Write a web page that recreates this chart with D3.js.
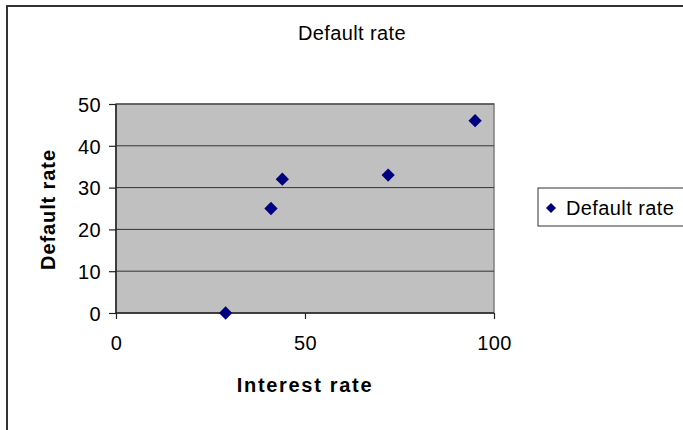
<!DOCTYPE html>
<html><head><meta charset="utf-8">
<script src="https://cdn.jsdelivr.net/npm/d3@7"></script>
<style>body{margin:0;background:#fff}svg{display:block}text{font-family:"Liberation Sans",Arial,sans-serif}</style>
</head><body><svg id="c" width="683" height="430"></svg>
<script>
const interestRate = [29, 41, 44, 72, 95];
const defaultRate = [0, 25, 32, 33, 46];
const xTicks = [0, 50, 100];
const yTicks = [0, 10, 20, 30, 40, 50];
const chartTitle = "Default rate";
const xTitle = "Interest rate";
const yTitle = "Default rate";
const seriesName = "Default rate";

const svg = d3.select("#c");
const L = 116, R = 494, T = 104, B = 313;
const x = d3.scaleLinear().domain([0, 100]).range([L, R]);
const y = d3.scaleLinear().domain([0, 50]).range([B, T]);

// outer border
svg.append("rect").attr("x", 7).attr("y", 6).attr("width", 690).attr("height", 440)
  .attr("fill", "#fff").attr("stroke", "#333").attr("stroke-width", 2);

// plot area
svg.append("rect").attr("x", L).attr("y", T).attr("width", R - L).attr("height", B - T)
  .attr("fill", "#c0c0c0").attr("stroke", "#808080").attr("stroke-width", 1.5);

// gridlines
svg.append("g").selectAll("line").data(yTicks.filter(d => d > 0)).join("line")
  .attr("x1", L).attr("x2", R).attr("y1", d => y(d)).attr("y2", d => y(d))
  .attr("stroke", "#333").attr("stroke-width", 1);

// axes
const yAxis = svg.append("g").attr("transform", `translate(${L},0)`)
  .call(d3.axisLeft(y).tickValues(yTicks).tickSize(7).tickPadding(8));
const xAxis = svg.append("g").attr("transform", `translate(0,${B})`)
  .call(d3.axisBottom(x).tickValues(xTicks).tickSize(6));
[yAxis, xAxis].forEach(a => {
  a.select(".domain").attr("stroke", "#222").attr("stroke-width", 1.5);
  a.selectAll(".tick line").attr("stroke", "#222").attr("stroke-width", 1.2);
  a.selectAll("text").attr("font-size", 20).attr("fill", "#000").attr("letter-spacing", 0.4)
    .attr("font-family", "Liberation Sans, Arial, sans-serif");
});
xAxis.selectAll("text").attr("y", 37).attr("dy", 0);
yAxis.selectAll("text").attr("dy", "0.36em");
xAxis.selectAll(".domain").attr("d", `M${L},0H${R}`);
yAxis.selectAll(".domain").attr("d", `M0,${B}V${T}`);

// points
const sym = d3.symbol(d3.symbolSquare, 88);
svg.append("g").selectAll("path").data(interestRate.map((v, i) => [v, defaultRate[i]])).join("path")
  .attr("d", sym).attr("fill", "#000080")
  .attr("transform", d => `translate(${x(d[0])},${y(d[1])}) rotate(45)`);

// titles
svg.append("text").attr("x", 352).attr("y", 40).attr("text-anchor", "middle")
  .attr("font-size", 20).attr("letter-spacing", 0.4).text(chartTitle);
svg.append("text").attr("x", 305).attr("y", 392).attr("text-anchor", "middle")
  .attr("font-size", 20).attr("font-weight", "bold").attr("letter-spacing", 1.7).text(xTitle);
svg.append("text").attr("transform", `translate(55,${(T + B) / 2 + 1}) rotate(-90)`)
  .attr("text-anchor", "middle").attr("font-size", 20).attr("font-weight", "bold")
  .attr("letter-spacing", 0.9).text(yTitle);

// legend
svg.append("rect").attr("x", 538).attr("y", 188).attr("width", 160).attr("height", 38)
  .attr("fill", "#fff").attr("stroke", "#333").attr("stroke-width", 1);
svg.append("path").attr("d", d3.symbol(d3.symbolSquare, 50))
  .attr("transform", "translate(551,208) rotate(45)").attr("fill", "#000080");
svg.append("text").attr("x", 566).attr("y", 215).attr("font-size", 20)
  .attr("letter-spacing", 0.4).text(seriesName);
</script></body></html>
